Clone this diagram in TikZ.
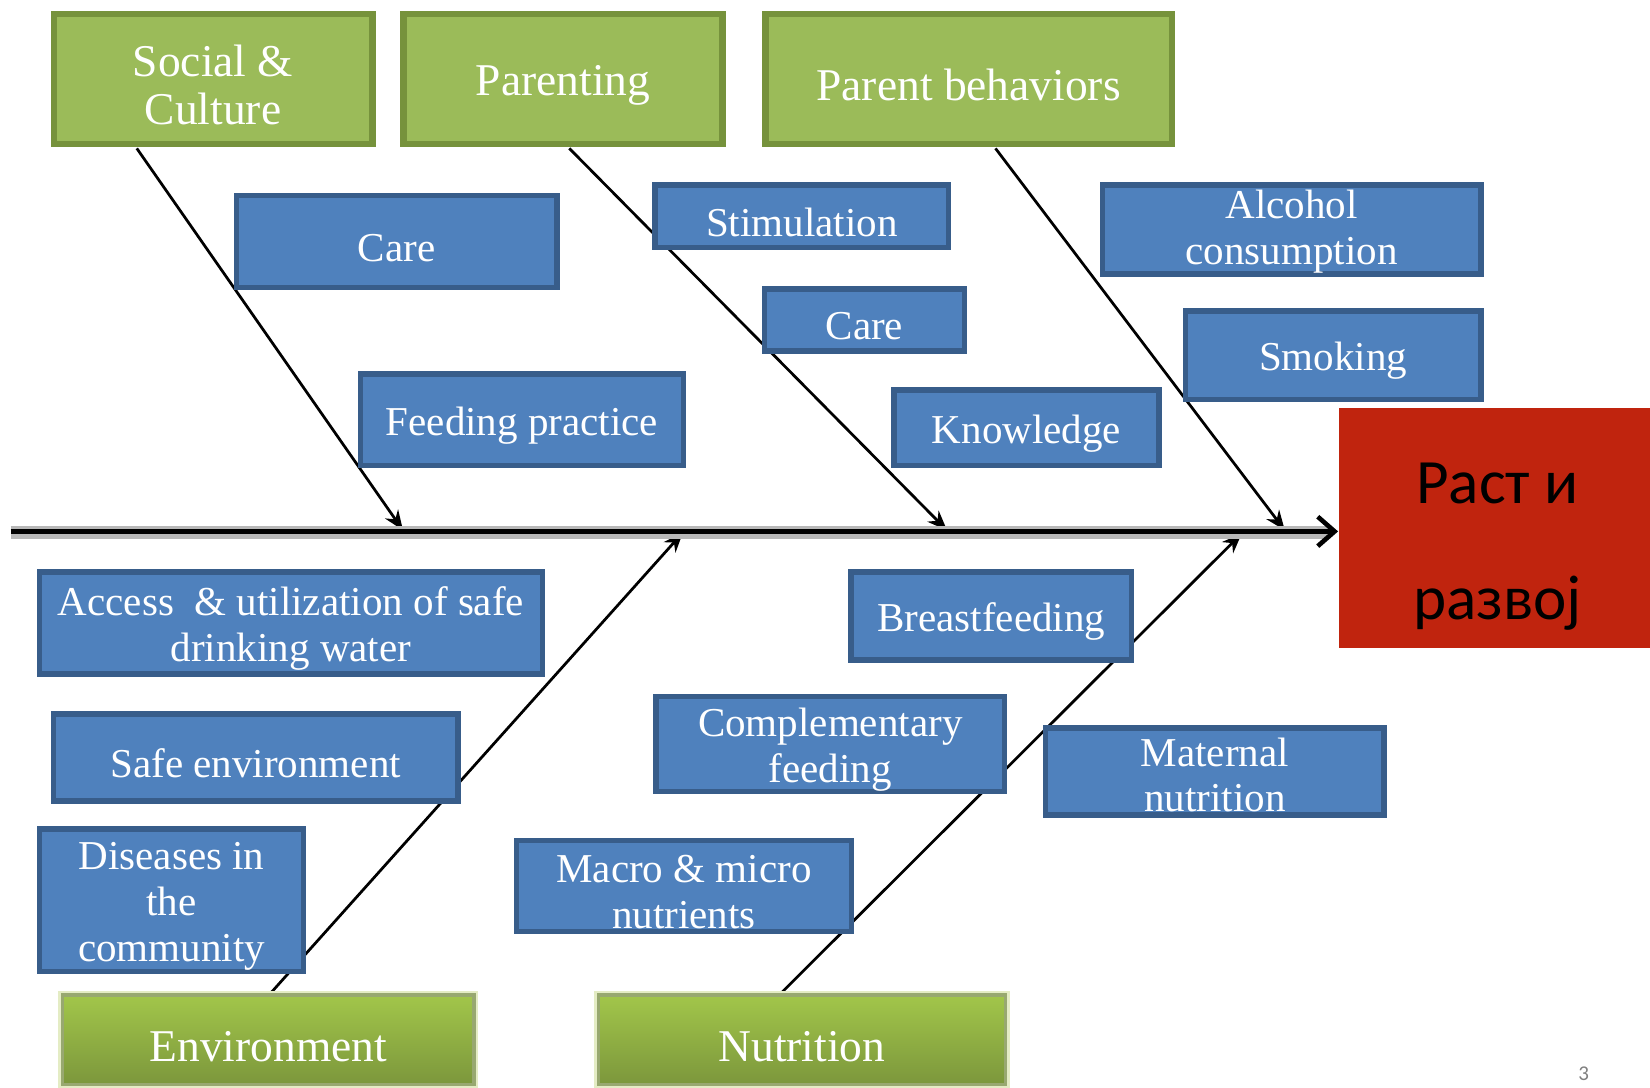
\documentclass[tikz,border=0pt]{standalone}
\usepackage{fontspec}
\setmainfont{Liberation Serif}
\newfontfamily\calib{Carlito}
\usetikzlibrary{arrows.meta,backgrounds,calc}
\definecolor{gfill}{RGB}{155,187,89}
\definecolor{gdraw}{RGB}{118,146,60}
\definecolor{bfill}{RGB}{79,129,189}
\definecolor{bdraw}{RGB}{56,93,138}
\definecolor{rfill}{RGB}{192,36,14}
\definecolor{gtop}{RGB}{162,198,74}
\definecolor{gbot}{RGB}{124,151,60}
\definecolor{gline}{RGB}{152,168,112}
\definecolor{ghalo}{RGB}{228,236,196}
\newcommand{\bst}{\rule{0pt}{19pt}}
\newcommand{\gst}{\rule{0pt}{20.5pt}}
\begin{document}
\begin{tikzpicture}[x=0.5pt,y=-0.5pt,
 topbox/.style={draw=gdraw, fill=gfill, line width=3.2pt, text=white, align=center, inner sep=0pt, font=\fontsize{21.6}{23}\selectfont},
 botbox/.style={draw=gline, top color=gtop, bottom color=gbot, line width=1.5pt, text=white, align=center, inner sep=0pt, font=\fontsize{21.6}{23}\selectfont,
   preaction={draw=ghalo, line width=4pt}},
 bluebox/.style={draw=bdraw, fill=bfill, line width=2.6pt, text=white, align=center, inner sep=0pt, font=\fontsize{19.5}{21.8}\selectfont},
 bone/.style={line width=1.3pt, -{Stealth[length=9.5pt,width=7.5pt]}},
 goaltext/.style={font=\calib\fontsize{30}{32}\selectfont, text=black, anchor=base, inner sep=0pt},
]
\useasboundingbox (0,0) rectangle (1568,1033);

% category boxes
\node[topbox, minimum width=151.3pt, minimum height=61.8pt] (soc) at (202.5,75) {\gst Social \&\\Culture};
\node[topbox, minimum width=151.8pt, minimum height=61.8pt] (par) at (535,75) {\gst Parenting};
\node[topbox, minimum width=193.3pt, minimum height=61.8pt] (pb) at (920.5,75) {\gst Parent behaviors};
\node[botbox, minimum width=195.5pt, minimum height=42.5pt] (env) at (255,988) {\gst Environment};
\node[botbox, minimum width=193.5pt, minimum height=42.5pt] (nut) at (762,988) {\gst Nutrition};

% cause boxes
\node[bluebox, minimum width=152.4pt, minimum height=43.9pt] (care1) at (377,229.5) {\bst Care};
\node[bluebox, minimum width=153.4pt, minimum height=43.4pt] (feed) at (496,399) {\bst Feeding practice};
\node[bluebox, minimum width=139.4pt, minimum height=29.9pt] (stim) at (762,205.5) {\bst Stimulation};
\node[bluebox, minimum width=94.9pt, minimum height=29.4pt] (care2) at (821.5,304) {\bst Care};
\node[bluebox, minimum width=125.9pt, minimum height=35.9pt] (know) at (975.5,406.5) {\bst Knowledge};
\node[bluebox, minimum width=179.9pt, minimum height=42.4pt] (alc) at (1227.5,218) {\rule{0pt}{16pt}Alcohol\\consumption};
\node[bluebox, minimum width=140.4pt, minimum height=41.9pt] (smok) at (1267,337.5) {\bst Smoking};
\node[bluebox, minimum width=238.9pt, minimum height=48.4pt] (acc) at (276.5,592) {\bst Access\ \ \& utilization of safe\\drinking water};
\node[bluebox, minimum width=192.4pt, minimum height=41.4pt] (safe) at (243,720) {\bst Safe environment};
\node[bluebox, minimum width=125.4pt, minimum height=67.9pt] (dis) at (163,855.5) {\bst Diseases in\\the\\community};
\node[bluebox, minimum width=133.4pt, minimum height=41.9pt] (breast) at (942,585.5) {\bst Breastfeeding};
\node[bluebox, minimum width=165.4pt, minimum height=43.4pt] (comp) at (789,707) {\bst Complementary\\feeding};
\node[bluebox, minimum width=160.9pt, minimum height=41.4pt] (mat) at (1154.5,733) {\rule{0pt}{17pt}Maternal\\nutrition};
\node[bluebox, minimum width=159.4pt, minimum height=43.4pt] (macro) at (650,842) {\bst Macro \& micro\\nutrients};

% effect
\node[fill=rfill, minimum width=148pt, minimum height=114pt, inner sep=0pt] (goal) at (1420,502) {};
\node[goaltext] (goal1) at (1423,478) {Раст и};
\node[goaltext] (goal2) at (1423,589) {развој};

\node[font=\calib\fontsize{10}{11}\selectfont, text=gray, inner sep=0pt] (pg) at (1505,1020) {3};

% spine
\coordinate (tail) at (10,505);
\coordinate (head) at (tail -| goal.west);
\draw[line width=6.5pt, black!28] ([yshift=-0.5pt]tail) -- ([yshift=-0.5pt,xshift=-4pt]head);
\draw[line width=2.2pt, -{Straight Barb[length=8pt,width=14pt,line width=2.2pt]}] (tail) -- (head);

% bone coordinates
\coordinate (socB) at (130,141);   \coordinate (socE) at (383,504);
\coordinate (parB) at (541,141);   \coordinate (parE) at (900,504);
\coordinate (pbB)  at (946,141);   \coordinate (pbE)  at (1221,504);
\coordinate (envB) at (257,944);   \coordinate (envE) at (649,506);
\coordinate (nutB) at (742,944);   \coordinate (nutE) at (1180,507);

\begin{pgfonlayer}{background}
\draw[bone] (socB) -- (socE);
\draw[bone] (parB) -- (parE);
\draw[bone] (pbB) -- (pbE);
\draw[bone] (envB) -- (envE);
\draw[bone] (nutB) -- (nutE);
\end{pgfonlayer}
\end{tikzpicture}
\end{document}
